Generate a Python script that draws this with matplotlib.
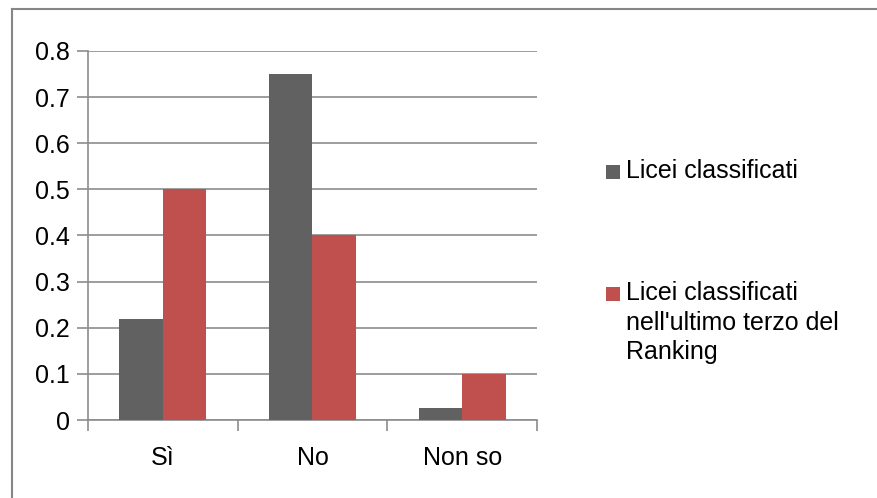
import matplotlib.pyplot as plt
from matplotlib.patches import Rectangle
from matplotlib.lines import Line2D
import numpy as np

categories = ['Sì', 'No', 'Non so']
series_names = ['Licei classificati',
                'Licei classificati\nnell\'ultimo terzo del\nRanking']
licei = [0.22, 0.75, 0.025]
licei_ultimo_terzo = [0.5, 0.4, 0.1]
yticks = [0, 0.1, 0.2, 0.3, 0.4, 0.5, 0.6, 0.7, 0.8]
colors = ['#616161', '#C0504D']

plt.rcParams['font.family'] = ['Liberation Sans', 'DejaVu Sans']
fs = 18

W, H = 878, 498
fig = plt.figure(figsize=(W / 100, H / 100), dpi=100)

# axes box in pixel coords of the reference
left, right, top, bottom = 88, 537, 51, 420
ax = fig.add_axes([left / W, (H - bottom) / H, (right - left) / W, (bottom - top) / H])

x = np.arange(len(categories))
bw = 0.29
ax.bar(x - bw / 2, licei, bw, color=colors[0], zorder=3)
ax.bar(x + bw / 2, licei_ultimo_terzo, bw, color=colors[1], zorder=3)

ax.set_xlim(-0.5, len(categories) - 0.5)
ax.set_ylim(0, 0.8)
ax.set_yticks(yticks)
ax.set_yticklabels([f'{v:g}' for v in yticks])
ax.yaxis.grid(True, color='#8c8c8c', lw=1.2, zorder=0)

# boundaries between categories get the tick marks, labels sit in the middle
ax.set_xticks(np.arange(len(categories) + 1) - 0.5)
ax.set_xticklabels([])
ax.set_xticks(x, minor=True)
ax.set_xticklabels(categories, minor=True)
ax.tick_params(axis='x', which='major', length=8, width=1.2, color='#8c8c8c', direction='out')
ax.tick_params(axis='x', which='minor', length=0, pad=19, labelsize=fs)
ax.tick_params(axis='y', length=8, width=1.2, color='#8c8c8c', direction='out', pad=5, labelsize=fs)

for s in ['top', 'right']:
    ax.spines[s].set_visible(False)
for s in ['left', 'bottom']:
    ax.spines[s].set_color('#8c8c8c')
    ax.spines[s].set_linewidth(1.2)

# legend drawn by hand so the marker sits on the first line of each label
def px(xp, yp):
    return xp / W, (H - yp) / H

legend_tops = [164, 286]
for name, col, yt in zip(series_names, colors, legend_tops):
    x0, y0 = px(606, yt + 15)
    fig.add_artist(Rectangle((x0, y0), 14 / W, 14 / H, transform=fig.transFigure,
                             facecolor=col, edgecolor='none'))
    tx, ty = px(626, yt - 5)
    fig.text(tx, ty, name, fontsize=fs, va='top', ha='left', linespacing=1.29)

# outer chart border (top and left edges visible)
fig.add_artist(Line2D([12 / W, 1], [1 - 9 / H, 1 - 9 / H], transform=fig.transFigure,
                      color='#868686', lw=1.5))
fig.add_artist(Line2D([12 / W, 12 / W], [0, 1 - 9 / H], transform=fig.transFigure,
                      color='#868686', lw=1.5))

fig.savefig('out.png', dpi=100)
